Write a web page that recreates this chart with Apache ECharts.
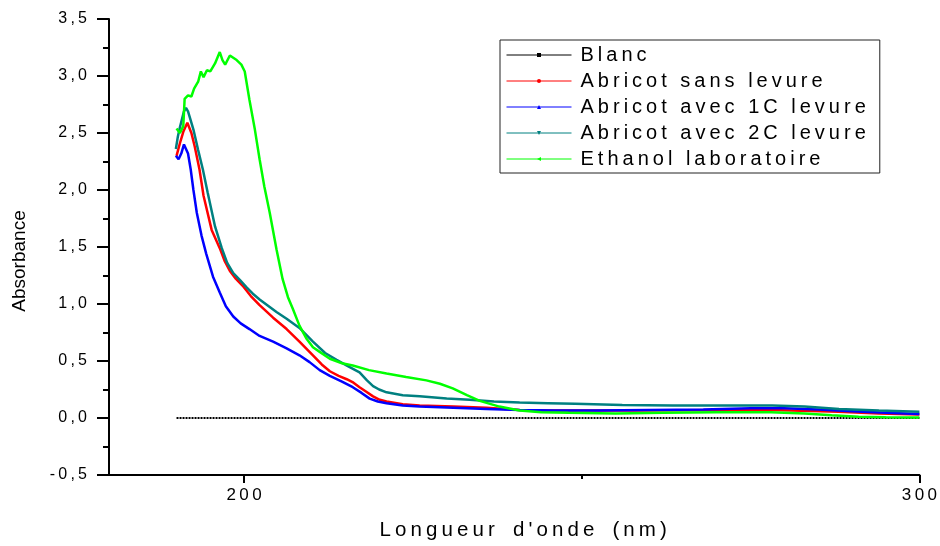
<!DOCTYPE html>
<html>
<head>
<meta charset="utf-8">
<script src="https://cdn.jsdelivr.net/npm/echarts@6/dist/echarts.min.js"></script>
<style>
  html, body { margin: 0; padding: 0; background: #fff; }
  #chart { width: 940px; height: 546px; }
</style>
</head>
<body>
<div id="chart"></div>
<script>
// wavelength (nm), absorbance
const blanc = [[190, 0], [220, 0], [250, 0], [280, 0], [300, 0]];

const abricotSans = [
  [190.0, 2.30], [190.5, 2.41], [191.0, 2.51], [191.6, 2.59], [192.2, 2.50], [192.7, 2.38],
  [193.4, 2.18], [194.0, 1.95], [195.2, 1.65], [196.4, 1.49], [197.1, 1.38], [197.9, 1.29],
  [198.8, 1.22], [199.8, 1.16], [201.0, 1.07], [202.3, 0.99], [204.3, 0.88], [206.3, 0.78],
  [208.2, 0.67], [210.2, 0.55], [211.5, 0.47], [212.7, 0.41], [214.0, 0.37], [215.2, 0.34],
  [216.2, 0.31], [217.1, 0.27], [218.1, 0.23], [219.1, 0.19], [220.1, 0.16], [221.1, 0.145],
  [223.5, 0.12], [226.0, 0.11], [231.0, 0.10], [235.9, 0.09], [240.8, 0.07], [245, 0.065],
  [250, 0.065], [258, 0.065], [265, 0.068], [272, 0.07], [278, 0.07], [284, 0.062],
  [288, 0.055], [294, 0.04], [300, 0.03]
];

const abricot1C = [
  [189.9, 2.30], [190.3, 2.27], [190.7, 2.32], [191.1, 2.40], [191.3, 2.41], [191.7, 2.32],
  [192.1, 2.18], [192.5, 2.00], [193.0, 1.80], [193.7, 1.60], [194.4, 1.44], [195.4, 1.24],
  [196.4, 1.10], [197.3, 0.98], [198.4, 0.89], [199.5, 0.83], [200.8, 0.78], [202.3, 0.72],
  [204.3, 0.67], [206.3, 0.61], [208.2, 0.55], [209.7, 0.49], [211.2, 0.42], [212.7, 0.37],
  [214.5, 0.32], [216.1, 0.27], [217.4, 0.22], [218.6, 0.17], [219.8, 0.145], [221.1, 0.13],
  [223.5, 0.11], [226.0, 0.10], [231, 0.09], [235.9, 0.08], [240.8, 0.07], [246, 0.065],
  [252, 0.065], [260, 0.07], [268, 0.075], [275, 0.085], [280, 0.085], [285, 0.075],
  [290, 0.06], [295, 0.045], [300, 0.035]
];

const abricot2C = [
  [189.9, 2.36], [190.2, 2.47], [190.5, 2.55], [190.8, 2.62], [191.1, 2.69], [191.4, 2.72],
  [191.7, 2.69], [192.0, 2.63], [192.5, 2.53], [193.2, 2.35], [193.9, 2.18], [194.6, 1.98],
  [195.7, 1.68], [196.7, 1.49], [197.5, 1.36], [198.4, 1.27], [199.4, 1.21], [200.3, 1.15],
  [201.3, 1.09], [202.3, 1.04], [204.8, 0.93], [206.3, 0.87], [208.2, 0.79], [210.2, 0.67],
  [212.0, 0.57], [213.7, 0.51], [215.5, 0.45], [217.1, 0.40], [218.2, 0.33], [219.1, 0.28],
  [220.0, 0.25], [221.1, 0.225], [223.5, 0.20], [226.0, 0.19], [230.0, 0.17], [233.4, 0.16],
  [237, 0.145], [240.8, 0.135], [245, 0.13], [249, 0.125], [256, 0.115], [263.5, 0.11],
  [271, 0.11], [278.2, 0.11], [283, 0.10], [288.1, 0.08], [294, 0.065], [300, 0.055]
];

const ethanol = [
  [190.0, 2.54], [190.5, 2.50], [191.0, 2.56], [191.2, 2.80], [191.7, 2.83], [192.2, 2.82],
  [192.6, 2.89], [193.2, 2.95], [193.6, 3.04], [194.0, 2.99], [194.5, 3.05], [195.0, 3.04],
  [195.7, 3.11], [196.4, 3.21], [196.8, 3.14], [197.2, 3.10], [197.9, 3.18], [198.4, 3.16],
  [198.9, 3.14], [199.6, 3.10], [200.1, 3.04], [200.8, 2.79], [201.6, 2.53], [202.3, 2.27],
  [203.0, 2.03], [203.8, 1.80], [204.8, 1.48], [205.7, 1.22], [206.5, 1.06], [207.2, 0.96],
  [208.2, 0.81], [209.2, 0.70], [210.2, 0.62], [211.2, 0.58], [212.7, 0.52], [214.5, 0.48],
  [216.1, 0.46], [218.5, 0.42], [221.1, 0.39], [224.0, 0.36], [227.0, 0.33], [229.0, 0.30],
  [230.9, 0.26], [233.0, 0.20], [234.9, 0.15], [237.8, 0.10], [240.8, 0.065], [244, 0.05],
  [248, 0.045], [255, 0.04], [262, 0.045], [270, 0.05], [278, 0.05], [283, 0.04],
  [287, 0.025], [291, 0.012], [295, 0.006], [300, 0.005]
];

const seriesNames = ['Blanc', 'Abricot sans levure', 'Abricot avec 1C levure', 'Abricot avec 2C levure', 'Ethanol laboratoire'];
const xMajorTicks = [200, 300];
const xMinorTicks = [250];

const FONT = '"Liberation Sans", Arial, sans-serif';
// original uses wide letter spacing, imitate with thin spaces
const spaced = (s) => s.split('').join('\u2009');

const chart = echarts.init(document.getElementById('chart'));

const mkLine = (name, data, color, symbol, rotate) => ({
  name: name,
  type: 'line',
  data: data,
  showSymbol: false,
  symbol: symbol,
  symbolRotate: rotate || 0,
  symbolSize: 5,
  lineStyle: { width: 2.5, color: color },
  itemStyle: { color: color },
  z: 3
});

const option = {
  animation: false,
  backgroundColor: '#fff',
  grid: { left: 109, right: 20, top: 19, bottom: 69 },
  legend: {
    left: 500,
    top: 40,
    orient: 'vertical',
    itemWidth: 65,
    itemHeight: 5,
    itemGap: 6,
    padding: [5, 14, 4, 6],
    borderColor: '#222',
    borderWidth: 1,
    backgroundColor: '#fff',
    lineStyle: { width: 1, type: 'solid' },
    textStyle: { fontFamily: FONT, fontSize: 20, color: '#000' },
    formatter: (name) => '\u2009' + spaced(name),
    data: seriesNames
  },
  xAxis: [
    {
      type: 'value',
      min: 180,
      max: 300,
      name: spaced("Longueur d'onde (nm)").replace(/ /g, ' \u2009'),
      nameLocation: 'middle',
      nameGap: 45,
      nameTextStyle: { fontFamily: FONT, fontSize: 20.5, color: '#000', padding: [0, 0, 0, 18] },
      axisLine: { show: true, onZero: false, lineStyle: { color: '#000', width: 2 } },
      axisTick: { show: true, customValues: xMajorTicks, length: 8, lineStyle: { color: '#000', width: 2 } },
      axisLabel: {
        customValues: xMajorTicks,
        margin: 12,
        fontFamily: FONT,
        fontSize: 17,
        color: '#000',
        formatter: (v) => spaced(String(v))
      },
      splitLine: { show: false }
    },
    {
      // minor tick at 250 only
      type: 'value',
      position: 'bottom',
      min: 180,
      max: 300,
      axisLine: { show: false, onZero: false },
      axisTick: { show: true, customValues: xMinorTicks, length: 4, lineStyle: { color: '#000', width: 2 } },
      axisLabel: { show: false },
      splitLine: { show: false }
    }
  ],
  yAxis: {
    type: 'value',
    min: -0.5,
    max: 3.5,
    interval: 0.5,
    name: 'Absorbance',
    nameLocation: 'middle',
    nameRotate: 90,
    nameGap: 80,
    nameTextStyle: { fontFamily: FONT, fontSize: 19, color: '#000', padding: [0, 28, 0, 0] },
    axisLine: { show: true, onZero: false, lineStyle: { color: '#000', width: 2 } },
    axisTick: { show: true, length: 12, lineStyle: { color: '#000', width: 2 } },
    minorTick: { show: true, splitNumber: 2, length: 6, lineStyle: { color: '#000', width: 2 } },
    axisLabel: {
      margin: 22,
      fontFamily: FONT,
      fontSize: 16,
      color: '#000',
      formatter: (v) => spaced(v.toFixed(1).replace('.', ','))
    },
    splitLine: { show: false }
  },
  series: [
    {
      name: seriesNames[0],
      type: 'line',
      data: blanc,
      showSymbol: false,
      symbol: 'rect',
      symbolSize: 5,
      lineStyle: { width: 2, color: '#000', type: [2, 1] },
      itemStyle: { color: '#000' },
      z: 2
    },
    mkLine(seriesNames[1], abricotSans, '#ff0000', 'circle'),
    mkLine(seriesNames[2], abricot1C, '#0000ff', 'triangle'),
    mkLine(seriesNames[3], abricot2C, '#008080', 'triangle', 180),
    mkLine(seriesNames[4], ethanol, '#00ff00', 'triangle', 90)
  ]
};

chart.setOption(option);
</script>
</body>
</html>
